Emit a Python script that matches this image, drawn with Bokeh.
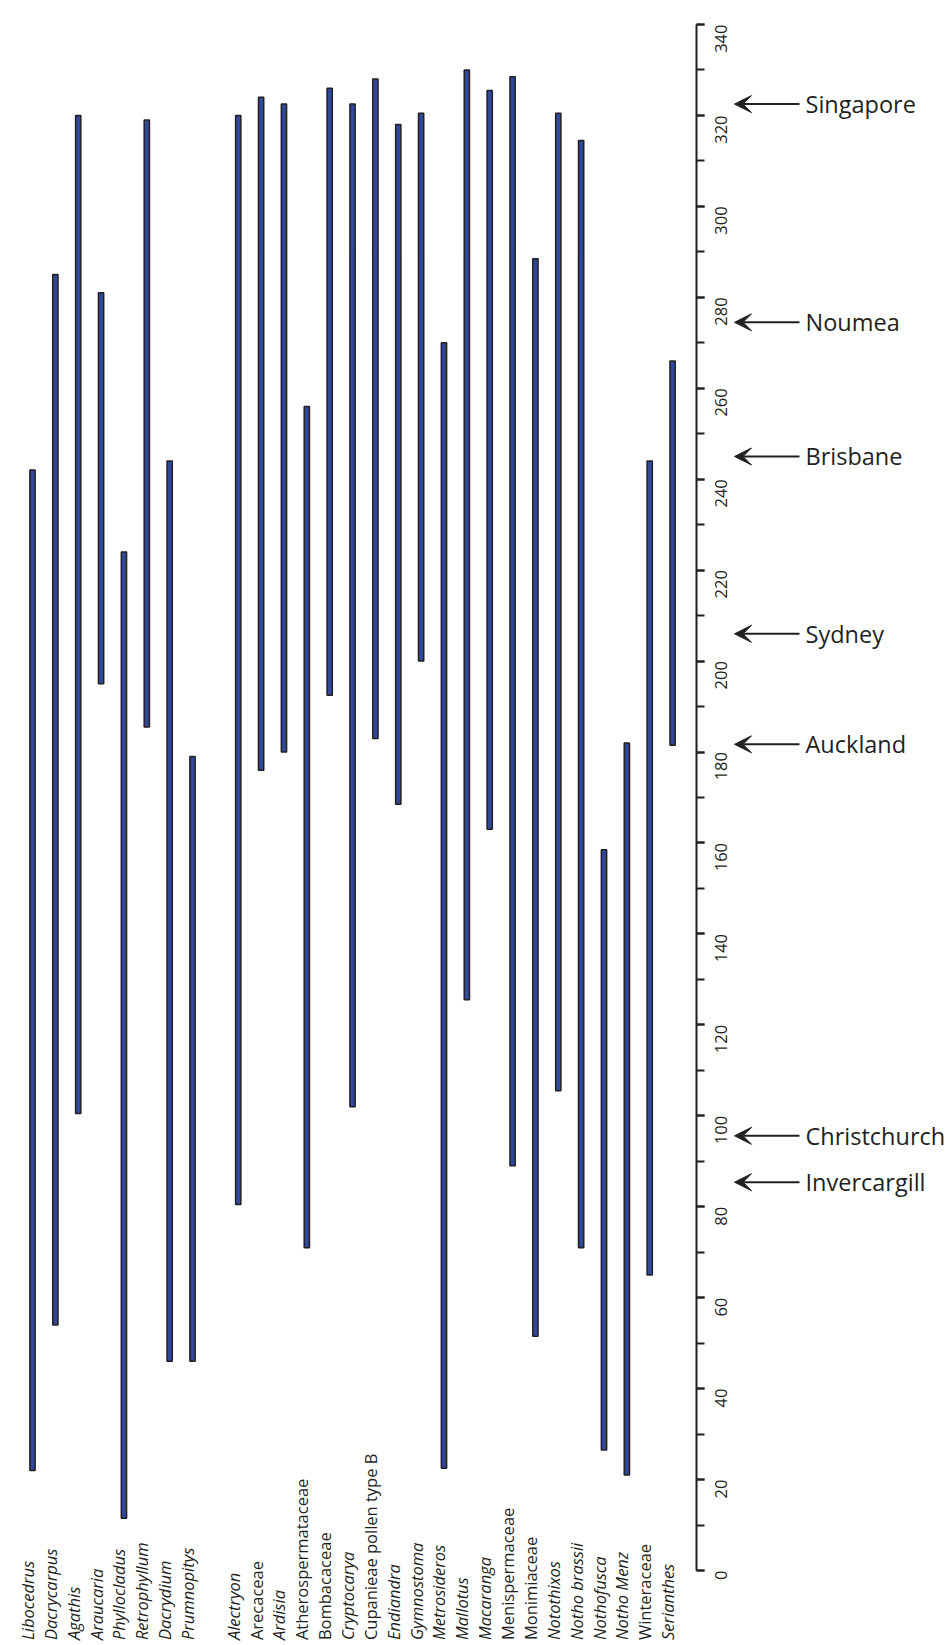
import math
from bokeh.plotting import figure
from bokeh.models import (Range1d, LinearAxis, SingleIntervalTicker, Arrow, VeeHead,
                          ColumnDataSource)
from bokeh.core.properties import value
from bokeh.embed import file_html
from bokeh.resources import INLINE

# ---------------- data ----------------
taxa = ["Libocedrus", "Dacrycarpus", "Agathis", "Araucaria", "Phyllocladus",
        "Retrophyllum", "Dacrydium", "Prumnopitys",
        "Alectryon", "Arecaceae", "Ardisia", "Atherospermataceae", "Bombacaceae",
        "Cryptocarya", "Cupanieae pollen type B", "Endiandra", "Gymnostoma",
        "Metrosideros", "Mallotus", "Macaranga", "Menispermaceae", "Monimiaceae",
        "Notothixos", "Notho brassii", "Nothofusca", "Notho Menz", "Winteraceae",
        "Serianthes"]
italic = [True, True, True, True, True, True, True, True,
          True, False, True, False, False, True, False, True, True,
          True, True, True, False, False, True, True, True, True, False, True]
positions = [0, 1, 2, 3, 4, 5, 6, 7,
             9, 10, 11, 12, 13, 14, 15, 16, 17, 18, 19, 20, 21, 22, 23, 24, 25, 26, 27, 28]
range_top = [242, 285, 320, 281, 224, 319, 244, 179,
             320, 324, 322.5, 256, 326, 322.5, 328, 318, 320.5, 270, 330, 325.5, 328.5, 288.5,
             320.5, 314.5, 158.5, 182, 244, 266]
range_bottom = [22, 54, 100.5, 195, 11.5, 185.5, 46, 46,
                80.5, 176, 180, 71, 192.5, 102, 183, 168.5, 200, 22.5, 125.5, 163, 89, 51.5,
                105.5, 71, 26.5, 21, 65, 181.5]

cities = ["Singapore", "Noumea", "Brisbane", "Sydney", "Auckland", "Christchurch", "Invercargill"]
city_values = [322.5, 274.5, 245, 206, 181.7, 95.6, 85.4]

# ---------------- styling ----------------
FONT = "Open Sans"
DARK = "#231f20"
BAR_FILL = "#30489c"

FRAME_W, FRAME_H = 948, 1642
Y_LO, Y_HI = -15.83, 345.28
X_LO, X_HI = -1.40, 40.07
AXIS_X = 29.05          # location of the value axis (in category units)
LABEL_Y = -15.3         # start of the rotated taxon labels

src = ColumnDataSource(dict(x=positions, top=range_top, bottom=range_bottom))

p = figure(width=FRAME_W, height=FRAME_H,
           x_range=Range1d(X_LO, X_HI), y_range=Range1d(Y_LO, Y_HI),
           output_backend="svg", toolbar_location=None, min_border=0,
           x_axis_location=None, y_axis_location=None)
p.outline_line_color = None
p.grid.visible = False
p.background_fill_color = "white"
p.extra_x_ranges = {"px": Range1d(0, FRAME_W)}

p.vbar(x="x", top="top", bottom="bottom", width=0.23, source=src,
       fill_color=BAR_FILL, line_color=DARK, line_width=1.5)

# taxon labels (rotated, reading upward)
it_idx = [i for i in range(len(taxa)) if italic[i]]
no_idx = [i for i in range(len(taxa)) if not italic[i]]
for idx, style in ((it_idx, "italic"), (no_idx, "normal")):
    p.text(x=[positions[i] for i in idx], y=[LABEL_Y] * len(idx),
           text=[taxa[i] for i in idx], angle=math.pi / 2,
           text_align="left", text_baseline="middle", x_offset=-5,
           text_font=value(FONT), text_font_style=style,
           text_font_size="16.5px", text_color=DARK)

# value axis: drawn at a fixed x, ticks and labels pointing to the right
yaxis = LinearAxis(ticker=SingleIntervalTicker(interval=20, num_minor_ticks=2),
                   bounds=(0, 340), fixed_location=AXIS_X)
yaxis.axis_line_width = 2
yaxis.axis_line_color = DARK
yaxis.major_tick_line_width = 2
yaxis.minor_tick_line_width = 2
yaxis.major_tick_line_color = DARK
yaxis.minor_tick_line_color = DARK
yaxis.major_tick_out = 0
yaxis.minor_tick_out = 0
yaxis.major_tick_in = 8
yaxis.minor_tick_in = 8
yaxis.major_label_orientation = math.pi / 2
yaxis.major_label_standoff = -24
yaxis.major_label_text_font = FONT
yaxis.major_label_text_font_size = "16.5px"
yaxis.major_label_text_color = DARK
p.add_layout(yaxis, "left")

# city arrows (x in frame pixels via the "px" range)
TIP_X, TAIL_X, TEXT_X = 734, 799, 805
for v in city_values:
    p.add_layout(Arrow(x_start=TAIL_X, y_start=v, x_end=TIP_X, y_end=v,
                       x_range_name="px", line_width=2, line_color=DARK,
                       end=VeeHead(size=17, fill_color=DARK, line_color=DARK, line_width=1)))
p.text(x=[TEXT_X] * len(cities), y=city_values, text=cities, x_range_name="px",
       text_align="left", text_baseline="middle",
       text_font=value(FONT), text_font_size="23.5px", text_color=DARK)

open("out.html", "w").write(file_html(p, INLINE))
